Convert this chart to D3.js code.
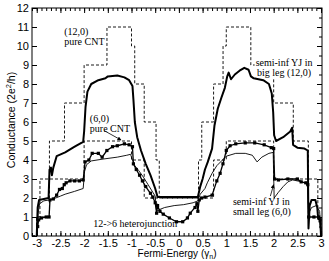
<!DOCTYPE html>
<html>
<head>
<meta charset="utf-8">
<script src="https://cdn.jsdelivr.net/npm/d3@7"></script>
<style>
  body { margin: 0; background: #fff; }
  svg { display: block; }
  .tick text { font-family: "Liberation Sans", Arial, sans-serif; font-size: 11px; fill: #000; }
  .note { font-family: "Liberation Serif", "Times New Roman", serif; font-size: 10px; fill: #000; }
</style>
</head>
<body>
<div id="chart"></div>
<script>
// Data: [Fermi energy (gamma_n), conductance (2e^2/h)]

// pure CNT step functions (value holds until next breakpoint)
const cnt12Steps = [[-3.1,0],[-3,1],[-2.932,3],[-2.732,5],[-2.414,7],[-2,9],[-1.518,11],[-1,10],[-0.932,8],[-0.732,6],[-0.482,4],[-0.414,2],[0.414,4],[0.482,6],[0.732,8],[0.932,10],[1,11],[1.518,9],[2,7],[2.414,5],[2.732,3],[2.932,1],[3,0],[3.02,0]];
const cnt6Steps = [[-3.1,0],[-3,1],[-2.732,3],[-2,5],[-1,4],[-0.732,2],[0.732,4],[1,5],[2,3],[2.732,1],[3,0],[3.02,0]];

// semi-infinite YJ, big leg (12,0) - thick line
const bigLeg = [[-3,0],[-2.98,1.5],[-2.95,1.9],[-2.75,2.0],[-2.73,3.5],[-2.7,3.6],[-2.68,3.2],[-2.65,3.6],[-2.58,4.2],[-2.4,4.4],[-2.2,4.7],[-2.02,4.95],[-2.0,5.5],[-1.97,6.8],[-1.93,7.6],[-1.85,8.0],[-1.7,8.2],[-1.55,8.3],[-1.5,8.4],[-1.3,8.45],[-1.15,8.35],[-1.05,8.2],[-0.98,7.9],[-0.96,7.2],[-0.93,6.0],[-0.88,5.2],[-0.8,4.5],[-0.7,3.8],[-0.6,3.2],[-0.5,2.5],[-0.45,2.05],[0.4,2.05],[0.45,2.6],[0.5,3.0],[0.55,3.5],[0.61,3.9],[0.7,4.6],[0.75,5.8],[0.82,6.7],[0.9,7.3],[0.97,7.8],[1.02,8.4],[1.05,8.6],[1.1,8.25],[1.18,8.5],[1.28,8.7],[1.38,8.85],[1.47,8.75],[1.52,8.4],[1.58,8.3],[1.78,8.2],[1.9,8.0],[1.96,7.5],[1.99,6.5],[2.01,5.3],[2.05,5.0],[2.2,5.2],[2.35,5.5],[2.39,5.7],[2.41,4.8],[2.5,4.65],[2.65,4.6],[2.72,4.5],[2.735,0.4],[2.76,1.6],[2.8,1.9],[2.88,1.9],[2.92,1.5],[2.94,0.9],[2.98,0.9],[3.0,0]];

// 12->6 heterojunction - thin line
const hetero = [[-3,0],[-2.97,1.2],[-2.94,1.7],[-2.85,1.85],[-2.73,1.9],[-2.6,2.0],[-2.5,2.1],[-2.4,2.2],[-2.2,2.35],[-2.02,2.5],[-1.99,3.4],[-1.95,3.75],[-1.85,3.95],[-1.6,4.05],[-1.3,4.15],[-1.1,4.25],[-1.02,4.3],[-0.98,4.0],[-0.93,3.7],[-0.85,3.45],[-0.75,3.1],[-0.65,2.7],[-0.55,2.3],[-0.5,2.1],[-0.47,1.3],[-0.4,1.4],[-0.3,1.5],[-0.1,1.6],[0.1,1.65],[0.3,1.75],[0.4,1.85],[0.45,2.2],[0.55,2.5],[0.6,2.8],[0.7,3.3],[0.8,3.7],[0.9,3.95],[1.0,4.2],[1.2,4.35],[1.4,4.35],[1.55,4.25],[1.65,3.9],[1.75,4.15],[1.9,4.35],[1.99,4.4],[2.01,2.0],[2.1,2.3],[2.2,2.6],[2.3,2.85],[2.4,2.95],[2.6,2.85],[2.72,2.7],[2.74,1.2],[2.8,1.5],[2.9,1.6],[2.97,1.3],[3.0,0]];

// semi-infinite YJ, small leg (6,0) - line with squares
const smallLeg = [[-3,0],[-2.98,0.5],[-2.96,0.85],[-2.9,0.95],[-2.8,1.0],[-2.74,1.0],[-2.72,1.9],[-2.65,1.95],[-2.58,2.15],[-2.52,2.45],[-2.46,2.5],[-2.42,2.7],[-2.38,2.8],[-2.3,2.9],[-2.2,2.9],[-2.1,2.9],[-2.02,2.95],[-1.98,3.9],[-1.9,4.0],[-1.83,4.35],[-1.7,4.35],[-1.62,4.15],[-1.52,4.5],[-1.4,4.7],[-1.3,4.75],[-1.15,4.85],[-1.05,4.8],[-0.98,4.7],[-0.96,3.8],[-0.9,3.5],[-0.83,3.2],[-0.77,2.9],[-0.7,2.6],[-0.6,2.25],[-0.55,2.05],[-0.5,1.75],[-0.47,1.2],[-0.45,1.6],[-0.4,1.3],[-0.33,1.15],[-0.2,0.95],[-0.05,0.75],[0.08,0.75],[0.18,0.95],[0.24,1.2],[0.34,1.5],[0.38,1.7],[0.4,1.3],[0.43,1.9],[0.48,2.0],[0.55,2.05],[0.7,2.15],[0.8,2.9],[0.87,3.3],[0.93,3.8],[1.0,4.5],[1.08,4.75],[1.2,4.85],[1.4,4.9],[1.6,4.9],[1.8,4.8],[1.95,4.65],[2.0,4.6],[2.02,3.0],[2.1,2.95],[2.3,3.0],[2.5,3.0],[2.58,2.85],[2.68,2.8],[2.72,2.7],[2.74,1.0],[2.85,1.0],[2.95,1.0],[2.98,0.8],[3.0,0]];

// Axis ticks
const xMajor = [-3,-2.5,-2,-1.5,-1,-0.5,0,0.5,1,1.5,2,2.5,3];
const yMajor = [0,1,2,3,4,5,6,7,8,9,10,11,12];

// Annotations: text lines, baseline of first line in data units
const notes = [
    { lines: ['(12,0)', 'pure CNT'], x: -2.42, y: 10.6, anchor: 'start' },
    { lines: ['(6,0)', 'pure CNT'], x: -1.88, y: 5.98, anchor: 'start' },
    { lines: ['semi-inf YJ in', 'big leg (12,0)'], x: 2.22, y: 8.97, anchor: 'middle' },
    { lines: ['semi-inf YJ in', 'small leg (6,0)'], x: 1.14, y: 1.63, anchor: 'start' },
    { lines: ['12->6 heterojunction'], x: -1.81, y: 0.47, anchor: 'start' }
];

// arrows from label to curve, data units
const arrows = [
    { from: [-1.58, 5.55], to: [-1.22, 5.05] },
    { from: [1.93, 2.1], to: [2.0, 2.7] }
];

const width = 329, height = 261;
const margin = { top: 8, right: 7, bottom: 25, left: 32 };

const svg = d3.select('#chart').append('svg')
    .attr('width', width)
    .attr('height', height);

const x = d3.scaleLinear().domain([-3.1, 3.02]).range([margin.left, width - margin.right]);
const y = d3.scaleLinear().domain([0, 12]).range([height - margin.bottom, margin.top]);

const plotBottom = height - margin.bottom, plotTop = margin.top;
const plotLeft = margin.left, plotRight = width - margin.right;

// clip to plot area
svg.append('clipPath').attr('id', 'clip')
    .append('rect')
    .attr('x', plotLeft).attr('y', plotTop)
    .attr('width', plotRight - plotLeft)
    .attr('height', plotBottom - plotTop);

// layers: dashed steps, label backgrounds, solid curves, labels
const dashLayer = svg.append('g').attr('clip-path', 'url(#clip)');
const noteBgLayer = svg.append('g');
const plot = svg.append('g').attr('clip-path', 'url(#clip)');
const noteLayer = svg.append('g');

const stepLine = d3.line().x(d => x(d[0])).y(d => y(d[1])).curve(d3.curveStepAfter);
const line = d3.line().x(d => x(d[0])).y(d => y(d[1]));

// pure CNT (dashed)
[cnt12Steps, cnt6Steps].forEach(steps => {
    dashLayer.append('path')
        .datum(steps)
        .attr('fill', 'none')
        .attr('stroke', '#000')
        .attr('stroke-width', 0.9)
        .attr('stroke-dasharray', '3,2')
        .attr('d', stepLine);
});

// thin heterojunction
plot.append('path')
    .datum(hetero)
    .attr('fill', 'none')
    .attr('stroke', '#000')
    .attr('stroke-width', 0.9)
    .attr('d', line);

// small leg with squares
plot.append('path')
    .datum(smallLeg)
    .attr('fill', 'none')
    .attr('stroke', '#000')
    .attr('stroke-width', 1.3)
    .attr('d', line);

plot.selectAll('.sq')
    .data(smallLeg.filter(d => d[1] > 0))
    .enter()
    .append('rect')
    .attr('class', 'sq')
    .attr('x', d => x(d[0]) - 1.6)
    .attr('y', d => y(d[1]) - 1.6)
    .attr('width', 3.2)
    .attr('height', 3.2)
    .attr('fill', '#000');

// big leg (thick)
plot.append('path')
    .datum(bigLeg)
    .attr('fill', 'none')
    .attr('stroke', '#000')
    .attr('stroke-width', 2)
    .attr('stroke-linejoin', 'round')
    .attr('d', line);

// Axes with inward ticks
const minorX = d3.range(-31, 31).map(i => i / 10).filter(v => v >= -3.1 && v <= 3.02);
const minorY = d3.range(0, 25).map(i => i / 2);

svg.append('g')
    .attr('transform', `translate(0,${plotBottom})`)
    .call(d3.axisBottom(x).tickValues(minorX).tickSize(-3).tickFormat(''));
svg.append('g')
    .attr('transform', `translate(0,${plotBottom})`)
    .call(d3.axisBottom(x).tickValues(xMajor).tickSize(-5).tickPadding(3).tickFormat(d => String(d)));
svg.append('g')
    .attr('transform', `translate(0,${plotTop})`)
    .call(d3.axisTop(x).tickValues(minorX).tickSize(-3).tickFormat(''));
svg.append('g')
    .attr('transform', `translate(0,${plotTop})`)
    .call(d3.axisTop(x).tickValues(xMajor).tickSize(-5).tickFormat(''));

svg.append('g')
    .attr('transform', `translate(${plotLeft},0)`)
    .call(d3.axisLeft(y).tickValues(yMajor).tickSize(-5).tickPadding(3).tickFormat(d => String(d)));
svg.append('g')
    .attr('transform', `translate(${plotRight},0)`)
    .call(d3.axisRight(y).tickValues(yMajor).tickSize(-5).tickFormat(''));
svg.append('g')
    .attr('transform', `translate(${plotRight},0)`)
    .call(d3.axisRight(y).tickValues(minorY).tickSize(-3).tickFormat(''));

svg.selectAll('.domain').remove();
svg.selectAll('.tick line').attr('stroke', '#000');

// frame
svg.append('rect')
    .attr('x', plotLeft).attr('y', plotTop)
    .attr('width', plotRight - plotLeft).attr('height', plotBottom - plotTop)
    .attr('fill', 'none').attr('stroke', '#000').attr('stroke-width', 1);

// Axis titles
const xTitle = svg.append('text')
    .attr('x', (plotLeft + plotRight) / 2)
    .attr('y', 257)
    .attr('text-anchor', 'middle')
    .style('font-family', '"Liberation Sans", Arial, sans-serif')
    .style('font-size', '10px');
xTitle.append('tspan').text('Fermi-Energy (γ');
xTitle.append('tspan').attr('dy', 2).style('font-size', '7px').text('n');
xTitle.append('tspan').attr('dy', -2).text(')');

const yTitle = svg.append('text')
    .attr('transform', `translate(15,${(plotTop + plotBottom) / 2 - 2}) rotate(-90)`)
    .attr('text-anchor', 'middle')
    .style('font-family', '"Liberation Sans", Arial, sans-serif')
    .style('font-size', '10.5px');
yTitle.append('tspan').text('Conductance  (2e');
yTitle.append('tspan').attr('dy', -4).style('font-size', '7.5px').text('2');
yTitle.append('tspan').attr('dy', 4).text('/h)');

// Annotations; white background hides only the dashed steps
notes.forEach(n => {
    const t = noteLayer.append('text')
        .attr('class', 'note')
        .attr('text-anchor', n.anchor);
    n.lines.forEach((s, i) => {
        t.append('tspan')
            .attr('x', x(n.x))
            .attr('y', y(n.y) + i * 10)
            .text(s);
    });
    const bb = t.node().getBBox();
    noteBgLayer.append('rect')
        .attr('x', bb.x - 1).attr('y', bb.y)
        .attr('width', bb.width + 2).attr('height', bb.height)
        .attr('fill', '#fff');
});

svg.append('defs').append('marker')
    .attr('id', 'ah').attr('viewBox', '0 0 10 10')
    .attr('refX', 9).attr('refY', 5)
    .attr('markerWidth', 5).attr('markerHeight', 5)
    .attr('orient', 'auto')
    .append('path').attr('d', 'M0,0L10,5L0,10z').attr('fill', '#000');
arrows.forEach(a => {
    noteLayer.append('line')
        .attr('x1', x(a.from[0])).attr('y1', y(a.from[1]))
        .attr('x2', x(a.to[0])).attr('y2', y(a.to[1]))
        .attr('stroke', '#000').attr('stroke-width', 0.8)
        .attr('marker-end', 'url(#ah)');
});
</script>
</body>
</html>
